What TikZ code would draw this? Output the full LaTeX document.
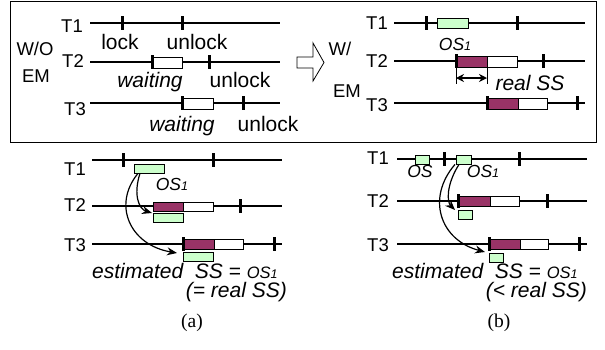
\documentclass[tikz,border=0pt]{standalone}
\usepackage{fontspec}
\setmainfont{Liberation Sans}
\newfontfamily\capfont{Liberation Serif}
\usetikzlibrary{arrows.meta}
\definecolor{osgreen}{HTML}{CCFFCC}
\definecolor{ssred}{HTML}{993366}
\newcommand{\OSone}[1]{{\fontsize{#1}{#1}\selectfont\itshape OS}{\fontsize{12.5}{12.5}\selectfont\itshape 1}}
\begin{document}
\begin{tikzpicture}[x=1pt,y=-1pt,
  tline/.style={line width=1.3pt},
  tick/.style={line width=3pt},
  lbl/.style={font=\fontsize{18.5}{18.5}\selectfont, inner sep=0, anchor=base},
  txt/.style={font=\fontsize{21}{21}\selectfont, inner sep=0, anchor=base},
  itx/.style={font=\fontsize{21}{21}\selectfont\itshape, inner sep=0, anchor=base},
  bx/.style={draw, line width=0.9pt, inner sep=0, anchor=north west},
  gbox/.style={bx, fill=osgreen},
  pbox/.style={bx, fill=ssred},
  wbox/.style={bx, fill=white},
  curv/.style={line width=1.2pt, -{Stealth[length=10pt,width=8pt]}}
]
\useasboundingbox (0,0) rectangle (605,349);

% ---------- frame ----------
\node[draw, line width=1.2pt, inner sep=0, minimum width=586pt, minimum height=141pt, anchor=north west] (frame) at (10,1) {};

% ---------- top-left: W/O EM ----------
\node[lbl] (wo) at (35,55) {W/O};
\node[lbl] (em1) at (36,82) {EM};
\node[lbl] (a1) at (72,32) {T1};
\node[lbl] (a2) at (73,67) {T2};
\node[lbl] (a3) at (75,115) {T3};
\coordinate (l1s) at (90,23);  \coordinate (l1e) at (280,23);
\coordinate (l2s) at (90,62);  \coordinate (l2e) at (280,62);
\coordinate (l3s) at (90,103); \coordinate (l3e) at (280,103);
\draw[tline] (l1s) -- (l1e);
\draw[tline] (l2s) -- (l2e);
\draw[tline] (l3s) -- (l3e);
\draw[tick] (122,16) -- (122,30);
\draw[tick] (182,16) -- (182,30);
\node[txt] (lk) at (120,49) {lock};
\node[txt] (ul1) at (197,49) {unlock};
\node[wbox, minimum width=30pt, minimum height=11pt] (w2) at (152,56.5) {};
\draw[tick] (152,55) -- (152,69);
\draw[tick] (209,55) -- (209,69);
\node[itx] (wt2) at (150,87) {waiting};
\node[txt] (ul2) at (240,87) {unlock};
\node[wbox, minimum width=31pt, minimum height=11pt] (w3) at (182,97.5) {};
\draw[tick] (182,96) -- (182,110);
\draw[tick] (243,96) -- (243,110);
\node[itx] (wt3) at (182,131) {waiting};
\node[txt] (ul3) at (268,131) {unlock};

% ---------- hollow arrow ----------
\draw[line width=0.8pt] (297,57) -- (313,57) -- (313,43) -- (324,62.5) -- (313,81) -- (313,68) -- (297,68) -- cycle;

% ---------- top-right: W/ EM ----------
\node[lbl] (w) at (340,55) {W/};
\node[lbl] (em2) at (347,97) {EM};
\node[lbl] (b1) at (377,29) {T1};
\node[lbl] (b2) at (377,67) {T2};
\node[lbl] (b3) at (377,111) {T3};
\coordinate (r1s) at (394,23);  \coordinate (r1e) at (585,23);
\coordinate (r2s) at (394,61);  \coordinate (r2e) at (585,61);
\coordinate (r3s) at (394,103); \coordinate (r3e) at (585,103);
\draw[tline] (r1s) -- (r1e);
\draw[tline] (r2s) -- (r2e);
\draw[tline] (r3s) -- (r3e);
\draw[tick] (426,16) -- (426,30);
\node[gbox, minimum width=31pt, minimum height=10pt] (rg1) at (437,18) {};
\draw[tick] (517,16) -- (517,30);
\node[anchor=base, inner sep=0] (ros1) at (455,50) {\OSone{17.5}};
\node[pbox, minimum width=31pt, minimum height=11pt] (rp2) at (456,55.5) {};
\node[wbox, minimum width=30pt, minimum height=11pt] (rw2) at (487,55.5) {};
\draw[tick] (456,54) -- (456,68);
\draw[tick] (543,54) -- (543,68);
\coordinate (d1t) at (456,67); \coordinate (d1b) at (456,84);
\coordinate (d2t) at (487,67); \coordinate (d2b) at (487,84);
\draw[line width=0.7pt] (d1t) -- (d1b);
\draw[line width=0.7pt] (d2t) -- (d2b);
\coordinate (da) at (456,78); \coordinate (db) at (487,78);
\draw[line width=1.3pt, {Stealth[length=8pt,width=8pt]}-{Stealth[length=8pt,width=8pt]}] (da) -- (db);
\node[itx] (rss) at (530,90) {real SS};
\node[pbox, minimum width=31pt, minimum height=11pt] (rp3) at (487,97.5) {};
\node[wbox, minimum width=29pt, minimum height=11pt] (rw3) at (518,97.5) {};
\draw[tick] (487,96) -- (487,110);
\draw[tick] (577,96) -- (577,110);

% ---------- bottom-left (a) ----------
\node[lbl] (c1) at (75,175) {T1};
\node[lbl] (c2) at (75,211) {T2};
\node[lbl] (c3) at (75,251) {T3};
\coordinate (p1s) at (92,160);  \coordinate (p1e) at (282,160);
\coordinate (p2s) at (92,206);  \coordinate (p2e) at (282,206);
\coordinate (p3s) at (92,244);  \coordinate (p3e) at (282,244);
\draw[tline] (p1s) -- (p1e);
\draw[tline] (p2s) -- (p2e);
\draw[tline] (p3s) -- (p3e);
\draw[tick] (123,153) -- (123,167);
\draw[tick] (213,153) -- (213,167);
\node[gbox, minimum width=30pt, minimum height=8.5pt] (ag1) at (134,164) {};
\node[anchor=base, inner sep=0] (aos1) at (172,190) {\OSone{17.5}};
\node[pbox, minimum width=30pt, minimum height=9.5pt] (ap2) at (153,201.5) {};
\node[wbox, minimum width=30pt, minimum height=9.5pt] (aw2) at (183,201.5) {};
\draw[tick] (240,199) -- (240,213);
\node[gbox, minimum width=30pt, minimum height=9pt] (ag2) at (153,213) {};
\node[pbox, minimum width=31pt, minimum height=9.5pt] (ap3) at (183,239) {};
\node[wbox, minimum width=29pt, minimum height=9.5pt] (aw3) at (214,239) {};
\draw[tick] (183,237) -- (183,251);
\draw[tick] (274,237) -- (274,251);
\node[gbox, minimum width=30pt, minimum height=9pt] (ag3) at (183,252) {};
\coordinate (at1) at (152,213);
\coordinate (at2) at (177,253);
\draw[curv] ([xshift=6pt]ag1.south west) .. controls (133,195) and (139,209) .. (at1);
\draw[curv] ([xshift=4pt]ag1.south west) .. controls (112,205) and (130,245) .. (at2);
\node[anchor=base west, inner sep=0] (aest) at (92,278) {\fontsize{21}{21}\selectfont\itshape estimated\ \ SS\/ \upshape=\ \OSone{16.5}};
\node[itx, anchor=base east] (areal) at (287,297) {(= real SS)};
\node[anchor=center, inner sep=0, font=\capfont\fontsize{19.5}{19.5}\selectfont] (capa) at (192,323) {(a)};

% ---------- bottom-right (b) ----------
\node[lbl] (e1) at (378,164) {T1};
\node[lbl] (e2) at (378,207) {T2};
\node[lbl] (e3) at (378,251) {T3};
\coordinate (q1s) at (397,159);  \coordinate (q1e) at (587,159);
\coordinate (q2s) at (397,201);  \coordinate (q2e) at (587,201);
\coordinate (q3s) at (397,244);  \coordinate (q3e) at (587,244);
\draw[tline] (q1s) -- (q1e);
\draw[tline] (q2s) -- (q2e);
\draw[tline] (q3s) -- (q3e);
\node[gbox, minimum width=14pt, minimum height=9pt] (bg0) at (415,154.5) {};
\draw[tick] (444,152) -- (444,166);
\node[gbox, minimum width=15pt, minimum height=9pt] (bg1) at (456,154.5) {};
\draw[tick] (519,152) -- (519,166);
\node[anchor=base, inner sep=0] (bos) at (420,177) {\fontsize{17.5}{17.5}\selectfont\itshape OS};
\node[anchor=base, inner sep=0] (bos1) at (483,177) {\OSone{17.5}};
\node[pbox, minimum width=32pt, minimum height=10pt] (bp2) at (458,196) {};
\node[wbox, minimum width=29pt, minimum height=10pt] (bw2) at (490,196) {};
\draw[tick] (458,194) -- (458,208);
\draw[tick] (547,194) -- (547,208);
\node[gbox, minimum width=14pt, minimum height=9pt] (bg2) at (458,210) {};
\node[pbox, minimum width=31pt, minimum height=10pt] (bp3) at (489,239) {};
\node[wbox, minimum width=28pt, minimum height=10pt] (bw3) at (520,239) {};
\draw[tick] (489,237) -- (489,251);
\draw[tick] (579,237) -- (579,251);
\node[gbox, minimum width=14pt, minimum height=9pt] (bg3) at (489,253) {};
\coordinate (bt1) at (455,210);
\coordinate (bt2) at (485,252);
\draw[curv] ([xshift=3pt]bg1.south west) .. controls (446,185) and (447,202) .. (bt1);
\draw[curv] ([xshift=-1pt]bg1.south west) .. controls (426,198) and (440,240) .. (bt2);
\node[anchor=base west, inner sep=0] (best) at (392,278) {\fontsize{21}{21}\selectfont\itshape estimated\ \ SS\/ \upshape=\ \OSone{16.5}};
\node[itx, anchor=base east] (breal) at (587,297) {(< real SS)};
\node[anchor=center, inner sep=0, font=\capfont\fontsize{19.5}{19.5}\selectfont] (capb) at (499,323) {(b)};
\end{tikzpicture}
\end{document}
